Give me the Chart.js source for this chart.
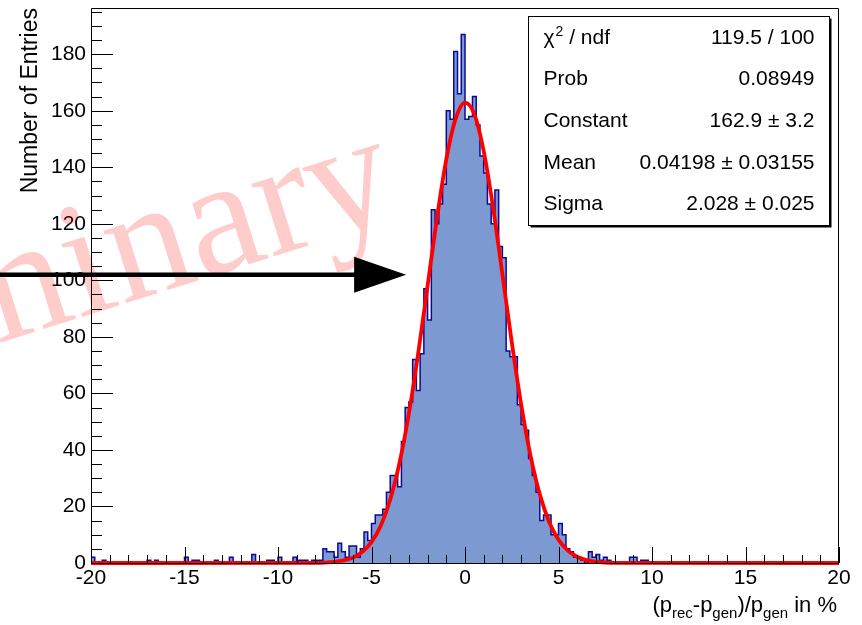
<!DOCTYPE html>
<html>
<head>
<meta charset="utf-8">
<script src="https://cdn.jsdelivr.net/npm/chart.js@4.4.1/dist/chart.umd.min.js"></script>
<style>
html,body{margin:0;padding:0;background:#fff;}
#wrap{position:relative;width:862px;height:625px;}
</style>
</head>
<body>
<div id="wrap"><canvas id="c" width="862" height="625"></canvas></div>
<script>
// ---------------- data ----------------
const xMin = -20;
const xMax = 20;
const binWidth = 0.2;
// entries per 0.2 % bin, from -20 to +20 (200 bins)
const binCounts = [
  2,0,0,1,0,0,0,0,0,0, 0,0,0,0,0,1,0,1,0,0,
  0,0,0,0,0,2,0,1,1,0, 0,0,0,1,0,0,0,2,0,0,
  0,0,0,3,0,0,0,1,1,0, 2,0,0,0,2,1,1,1,0,1,
  1,1,5,4,4,2,7,4,2,6, 6,2,5,11,8,14,17,17,19,25,
  31,31,27,43,55,57,72,61,74,97, 86,125,120,127,134,160,157,181,166,187,
  157,158,165,155,144,138,127,120,132,112, 108,75,73,73,56,49,47,37,31,25,
  15,17,17,10,10,14,10,5,4,2, 2,1,0,4,2,3,1,2,1,0,
  0,0,0,0,2,2,0,1,1,0, 0,0,0,0,0,0,0,0,0,0,
  0,0,0,0,0,0,0,0,0,0, 0,0,0,0,0,0,0,0,0,0,
  0,0,0,0,0,0,0,0,0,0, 0,0,0,0,0,0,0,0,0,0
];
const binLowEdges = binCounts.map((_, i) => +(xMin + i * binWidth).toFixed(1));

// Gaussian fit curve
const fitX = [-20, -8, -7.5, -7, -6.5, -6, -5.5, -5, -4.5, -4, -3.5, -3, -2.5, -2, -1.5, -1, -0.5,
              0, 0.5, 1, 1.5, 2, 2.5, 3, 3.5, 4, 4.5, 5, 5.5, 6, 6.5, 7, 7.5, 8, 20];
const fitY = [0, 0.06, 0.15, 0.39, 0.9, 1.9, 3.9, 7.4, 13.3, 22.4, 35.5, 52.9, 74.3, 98.1, 122.0, 142.8, 157.2,
              162.9, 158.8, 145.7, 125.8, 102.2, 78.2, 56.2, 38.1, 24.3, 14.5, 8.2, 4.4, 2.2, 1.0, 0.45, 0.18, 0.07, 0];

const xTickValues = [-20, -15, -10, -5, 0, 5, 10, 15, 20];
const yTickValues = [0, 20, 40, 60, 80, 100, 120, 140, 160, 180];
const xMinorPerMajor = 5;
const yMinorPerMajor = 4;

const statLabels = ["χ2 / ndf", "Prob", "Constant", "Mean", "Sigma"];
const statValues = ["119.5 / 100", "0.08949", "162.9 ± 3.2", "0.04198 ± 0.03155", "2.028 ± 0.025"];

const yTitle = "Number of Entries";
const xTitleParts = [["(p", 0], ["rec", 1], ["-p", 0], ["gen", 1], [")/p", 0], ["gen", 1], [" in %", 0]];
const watermarkText = "Preliminary";
const arrowLevel = 102;     // y value of the arrow
const arrowFromX = -25;     // x value where arrow starts (off-frame, at page edge)
const arrowToX = -3.15;     // x value of arrow tip

// ---------------- chart ----------------
const FONT = '"Liberation Sans", Arial, Helvetica, sans-serif';
const yMax = Math.max(...binCounts) * 1.05;

const histPoints = [{x: xMin, y: 0}]
  .concat(binLowEdges.map((x, i) => ({x: x, y: binCounts[i]})))
  .concat([{x: xMax, y: binCounts[binCounts.length - 1]}, {x: xMax, y: 0}]);
const fitPoints = fitX.map((x, i) => ({x: x, y: fitY[i]}));

const decor = {
  id: 'rootDecor',
  beforeDatasetsDraw(chart) {
    const ctx = chart.ctx;
    // watermark
    ctx.save();
    ctx.font = '165px "Liberation Serif", "Times New Roman", serif';
    ctx.fillStyle = 'rgba(255,0,0,0.2)';
    ctx.translate(402, 216);
    ctx.rotate(-17.5 * Math.PI / 180);
    ctx.textAlign = 'right';
    ctx.textBaseline = 'alphabetic';
    ctx.fillText(watermarkText, 0, 0);
    ctx.restore();
  },
  afterDatasetsDraw(chart) {
    const ctx = chart.ctx, ca = chart.chartArea;
    const xs = chart.scales.x, ys = chart.scales.y;
    ctx.save();
    ctx.strokeStyle = '#000';
    ctx.lineWidth = 1;
    // frame
    ctx.beginPath();
    ctx.rect(ca.left + 0.5, ca.top + 0.5, ca.right - ca.left - 1, ca.bottom - ca.top);
    ctx.stroke();
    // x ticks
    const xStep = (xTickValues[1] - xTickValues[0]) / xMinorPerMajor;
    ctx.beginPath();
    for (let k = 0; k < xTickValues.length; k++) {
      for (let m = 0; m < xMinorPerMajor; m++) {
        const v = xTickValues[k] + m * xStep;
        if (v > xMax + 1e-9) break;
        const px = Math.round(xs.getPixelForValue(v)) + 0.5;
        const len = m === 0 ? 16 : 8;
        ctx.moveTo(px, ca.bottom);
        ctx.lineTo(px, ca.bottom - len);
      }
    }
    // y ticks
    const yStep = (yTickValues[1] - yTickValues[0]) / yMinorPerMajor;
    for (let k = 0; k < yTickValues.length; k++) {
      for (let m = 0; m < yMinorPerMajor; m++) {
        const v = yTickValues[k] + m * yStep;
        if (v > ys.max) break;
        const py = Math.round(ys.getPixelForValue(v)) + 0.5;
        const len = m === 0 ? 22 : 11;
        ctx.moveTo(ca.left, py);
        ctx.lineTo(ca.left + len, py);
      }
    }
    ctx.stroke();
    ctx.restore();
  },
  afterDraw(chart) {
    const ctx = chart.ctx, ca = chart.chartArea;
    const xs = chart.scales.x, ys = chart.scales.y;
    ctx.save();
    // arrow
    const ay = ys.getPixelForValue(arrowLevel);
    const ax0 = xs.getPixelForValue(arrowFromX);
    const ax1 = xs.getPixelForValue(arrowToX);
    const headLen = 52, headHalf = 18;
    ctx.strokeStyle = '#000';
    ctx.fillStyle = '#000';
    ctx.lineWidth = 4.5;
    ctx.beginPath();
    ctx.moveTo(ax0, ay);
    ctx.lineTo(ax1 - headLen + 2, ay);
    ctx.stroke();
    ctx.beginPath();
    ctx.moveTo(ax1, ay);
    ctx.lineTo(ax1 - headLen, ay - headHalf);
    ctx.lineTo(ax1 - headLen, ay + headHalf);
    ctx.closePath();
    ctx.fill();

    // y title
    ctx.fillStyle = '#000';
    ctx.font = '23px ' + FONT;
    ctx.save();
    ctx.translate(37, ca.top);
    ctx.rotate(-Math.PI / 2);
    ctx.textAlign = 'right';
    ctx.textBaseline = 'alphabetic';
    ctx.fillText(yTitle, 0, 0);
    ctx.restore();

    // x title with subscripts
    const mainF = '22px ' + FONT, subF = '15px ' + FONT;
    let total = 0;
    xTitleParts.forEach(([t, s]) => { ctx.font = s ? subF : mainF; total += ctx.measureText(t).width; });
    let tx = ca.right - 2 - total;
    const tyBase = 612;
    ctx.textAlign = 'left';
    ctx.textBaseline = 'alphabetic';
    xTitleParts.forEach(([t, s]) => {
      ctx.font = s ? subF : mainF;
      ctx.fillText(t, tx, s ? tyBase + 6 : tyBase);
      tx += ctx.measureText(t).width;
    });

    // stats box
    const bL = 528.5, bT = 16.5, bR = 829.5, bB = 225.5;
    ctx.fillStyle = '#fff';
    ctx.fillRect(bL, bT, bR - bL, bB - bT);
    ctx.strokeStyle = '#000';
    ctx.lineWidth = 1;
    ctx.strokeRect(bL, bT, bR - bL, bB - bT);
    ctx.lineWidth = 2;
    ctx.beginPath();
    ctx.moveTo(bR + 1, bT + 2); ctx.lineTo(bR + 1, bB + 1); ctx.lineTo(bL + 2, bB + 1);
    ctx.stroke();
    ctx.fillStyle = '#000';
    const rowH = 41.7;
    for (let i = 0; i < statLabels.length; i++) {
      const by = bT + 27 + rowH * i;
      ctx.font = '21px ' + FONT;
      ctx.textAlign = 'left';
      if (i === 0) {
        ctx.fillText('χ', bL + 15, by);
        let w = ctx.measureText('χ').width;
        ctx.font = '14px ' + FONT;
        ctx.fillText('2', bL + 15 + w + 1, by - 8);
        w += ctx.measureText('2').width + 1;
        ctx.font = '21px ' + FONT;
        ctx.fillText(' / ndf', bL + 15 + w, by);
      } else {
        ctx.fillText(statLabels[i], bL + 15, by);
      }
      ctx.textAlign = 'right';
      ctx.fillText(statValues[i], bR - 15, by);
    }
    ctx.restore();
  }
};

Chart.defaults.font.family = FONT;
new Chart(document.getElementById('c'), {
  type: 'line',
  data: {
    datasets: [
      {
        label: 'fit',
        data: fitPoints,
        borderColor: '#ff0000',
        borderWidth: 3.8,
        pointRadius: 0,
        fill: false,
        cubicInterpolationMode: 'monotone',
        clip: 6,
        order: 0
      },
      {
        label: 'hist',
        data: histPoints,
        stepped: true,
        borderColor: '#0a0a96',
        borderWidth: 1.5,
        backgroundColor: '#7d99d1',
        fill: 'origin',
        pointRadius: 0,
        tension: 0,
        order: 1
      }
    ]
  },
  options: {
    responsive: false,
    animation: false,
    devicePixelRatio: 1,
    layout: {padding: {top: 8, right: 23, bottom: 0, left: 0}},
    plugins: {legend: {display: false}, tooltip: {enabled: false}, title: {display: false}},
    scales: {
      x: {
        type: 'linear', min: xMin, max: xMax,
        afterBuildTicks: s => { s.ticks = xTickValues.map(v => ({value: v})); },
        afterFit: s => { s.height = 62; s.paddingLeft = 0; s.paddingRight = 0; },
        grid: {display: false, drawTicks: false},
        border: {display: false},
        ticks: {color: '#000', font: {size: 21}, padding: 3, maxRotation: 0, autoSkip: false, callback: v => String(v)}
      },
      y: {
        type: 'linear', min: 0, max: yMax,
        afterBuildTicks: s => { s.ticks = yTickValues.map(v => ({value: v})); },
        afterFit: s => { s.width = 91; s.paddingTop = 0; s.paddingBottom = 0; },
        grid: {display: false, drawTicks: false},
        border: {display: false},
        ticks: {color: '#000', font: {size: 21}, padding: 5, autoSkip: false, callback: v => String(v)}
      }
    }
  },
  plugins: [decor]
});
</script>
</body>
</html>
